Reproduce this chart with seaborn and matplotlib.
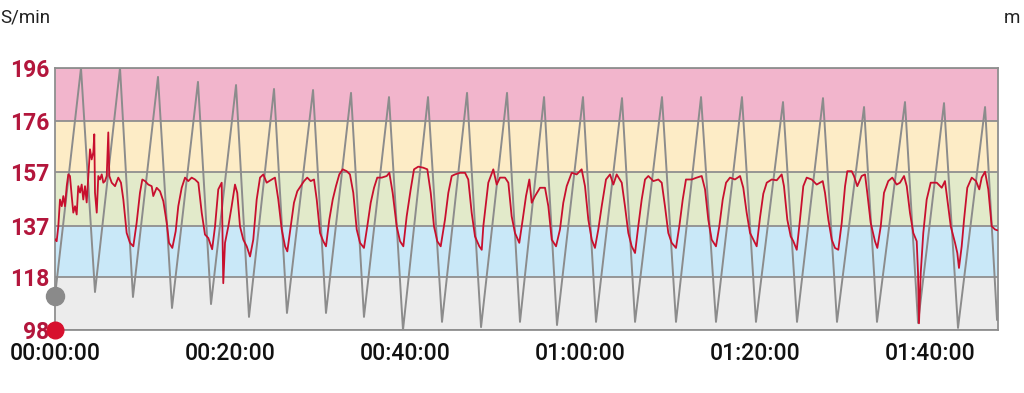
import matplotlib
matplotlib.use("Agg")
import matplotlib.pyplot as plt
import seaborn as sns

# ---------------- data ----------------
zone_bounds = [98, 118, 137, 157, 176, 196]
zone_colors = ["#ececec", "#c9e8f8", "#e2eaca", "#fdecc6", "#f2b5cc"]
tick_minutes = [0, 20, 40, 60, 80, 100]
tick_labels = ["00:00:00", "00:20:00", "00:40:00", "01:00:00", "01:20:00", "01:40:00"]
x_end = 107.77

hr_minutes = [
    0.00, 0.19, 0.38, 0.57, 0.77, 0.95, 1.14, 1.34, 1.52, 1.71, 1.91, 2.09, 2.29, 2.48, 2.66, 2.86, 3.05, 3.23, 3.43, 3.62, 3.81,
    4.00, 4.19, 4.38, 4.49, 4.57, 4.77, 4.95, 5.14, 5.34, 5.52, 5.71, 5.91, 6.09, 6.21, 6.48, 6.86, 7.23, 7.54, 7.81, 8.19, 8.57, 8.95,
    9.33, 9.71, 9.98, 10.29, 10.66, 11.05, 11.23, 11.62, 12.00, 12.38, 12.77, 13.03, 13.41,
    13.79, 14.09, 14.48, 14.86, 15.23, 15.62, 16.00, 16.38, 16.77, 17.14, 17.52, 17.96,
    18.29, 18.66, 19.05, 19.23, 19.43, 19.81, 20.19, 20.57, 20.83, 21.14, 21.52, 21.91, 22.29,
    22.66, 23.05, 23.43, 23.81, 24.19, 24.77, 25.14, 25.52, 25.91, 26.29, 26.55,
    26.94, 27.31, 27.69, 28.08, 28.46, 28.83, 29.22, 29.60, 29.91, 30.29, 30.66, 30.97,
    31.35, 31.74, 32.11, 32.49, 32.88, 33.34, 33.71, 34.09, 34.48, 34.86, 35.31,
    35.69, 36.08, 36.46, 36.83, 37.34, 37.91, 38.21, 38.59, 39.05, 39.43, 39.81,
    40.19, 40.65, 41.03, 41.52, 42.09, 42.55, 42.94, 43.31, 43.69, 44.08,
    44.57, 44.95, 45.34, 45.71, 46.29, 46.86, 47.23, 47.62, 48.00, 48.49, 48.77,
    48.95, 49.52, 50.09, 50.48, 50.86, 51.43, 51.81, 52.19, 52.57, 53.06,
    53.45, 53.83, 54.21, 54.48, 54.86, 55.43, 56.00, 56.38, 56.77, 57.26,
    57.71, 58.09, 58.48, 59.05, 59.62, 60.19, 60.57, 60.95, 61.34, 61.71,
    62.09, 62.48, 62.97, 63.43, 63.81, 64.19, 64.77, 65.14, 65.52, 65.91, 66.29,
    66.66, 67.05, 67.43, 67.81, 68.38, 68.95, 69.34, 69.71, 70.09, 70.48, 70.97,
    71.35, 71.74, 72.11, 72.77, 73.34, 73.91, 74.29, 74.66, 75.05, 75.54,
    75.92, 76.31, 76.69, 77.14, 77.71, 78.29, 78.66, 79.05, 79.43, 79.81, 80.19,
    80.57, 80.95, 81.34, 81.91, 82.48, 83.05, 83.31, 83.69, 84.08, 84.38, 84.77,
    85.14, 85.52, 85.91, 86.48, 87.05, 87.74, 88.00, 88.38, 88.77, 89.14, 89.52,
    89.91, 90.29, 90.55, 91.05, 91.31, 91.69, 92.19, 92.57, 92.83, 93.22, 93.71, 93.98,
    94.37, 94.74, 95.23, 95.69, 96.19, 96.57, 97.03, 97.34, 97.71, 98.09, 98.48, 98.63, 98.74, 98.94,
    99.23, 99.62, 100.08, 100.77, 101.34, 101.71, 101.98, 102.37, 102.86, 103.12, 103.31, 103.62,
    103.89, 104.26, 104.77, 105.26, 105.63, 105.91, 106.29, 106.66, 107.05, 107.43, 107.69,
]
hr_bpm = [
    132.0, 131.2, 136.8, 146.8, 144.3, 148.1, 144.3, 151.8, 156.2, 155.6, 148.1, 141.9, 144.3, 141.2, 151.8, 149.4, 152.4, 146.8, 151.8, 145.7, 155.6,
    165.6, 161.8, 164.5, 171.2, 149.4, 141.9, 155.6, 154.3, 156.2, 153.1, 153.7, 155.6, 171.9, 155.6, 153.1, 151.8, 155.0, 153.1, 146.8, 134.3, 130.6, 129.3,
    138.1, 149.3, 154.3, 153.7, 152.4, 151.8, 148.1, 151.2, 149.9, 146.2, 138.1, 130.6, 128.7,
    134.9, 144.3, 151.2, 155.0, 153.7, 155.0, 154.3, 153.1, 141.8, 133.7, 132.4, 128.2,
    136.8, 150.6, 153.1, 115.5, 130.6, 136.8, 144.3, 152.4, 149.3, 136.8, 131.8, 129.3, 125.5,
    131.8, 146.8, 155.0, 156.2, 153.1, 154.3, 155.0, 146.8, 135.6, 129.3, 127.4,
    136.8, 145.6, 149.9, 151.8, 153.7, 155.0, 153.7, 154.3, 146.8, 134.3, 131.2, 129.3,
    139.3, 146.8, 151.8, 156.2, 158.1, 157.4, 156.2, 149.3, 135.6, 130.6, 128.7,
    136.8, 145.6, 151.2, 155.0, 155.0, 155.6, 156.8, 149.3, 136.8, 131.2, 129.3,
    140.5, 150.6, 158.1, 159.1, 158.7, 158.1, 149.3, 136.8, 131.2, 129.3,
    139.3, 149.3, 155.6, 156.2, 156.8, 156.8, 154.3, 141.8, 133.0, 129.3, 128.0,
    136.8, 153.1, 158.1, 152.4, 155.0, 155.0, 153.1, 140.5, 134.3, 130.6,
    139.3, 148.1, 154.3, 145.6, 148.1, 151.2, 151.2, 144.3, 131.8, 129.3,
    135.6, 145.6, 151.8, 156.8, 156.2, 158.1, 151.8, 139.3, 131.8, 128.7,
    135.6, 144.3, 154.3, 156.2, 152.4, 156.2, 153.1, 144.3, 134.3, 129.3, 126.8,
    136.8, 146.8, 154.3, 155.6, 153.7, 154.3, 153.1, 144.3, 134.3, 130.6, 128.7,
    136.8, 146.8, 154.3, 154.3, 155.0, 155.6, 150.6, 139.3, 131.8, 129.3,
    136.8, 146.8, 153.1, 155.0, 154.3, 155.6, 151.2, 141.8, 134.3, 131.8, 129.3,
    140.0, 149.0, 153.1, 154.3, 154.0, 156.2, 151.8, 139.3, 133.0, 131.2, 128.0,
    139.3, 151.8, 155.0, 154.3, 152.4, 153.7, 149.3, 139.3, 131.8, 128.7, 128.0,
    138.1, 151.8, 157.4, 157.4, 155.6, 151.8, 155.6, 156.2, 149.3, 138.1, 131.2, 128.7,
    136.8, 149.3, 153.7, 155.0, 152.4, 153.1, 155.6, 151.8, 141.8, 134.3, 131.2, 119.3, 100.5, 119.3,
    134.3, 146.8, 153.1, 153.1, 151.2, 153.7, 146.8, 136.8, 130.6, 126.8, 121.2, 129.3,
    139.3, 151.2, 155.0, 153.7, 150.6, 155.0, 157.2, 150.6, 136.8, 135.6, 135.3,
]

# altitude (relative, right axis without tick values, unit "m")
alt_minutes = [
    0.00, 2.97, 4.57, 7.43, 8.91, 11.77, 13.37, 16.34, 17.83, 20.69, 22.17, 25.03, 26.51,
    29.49, 30.97, 33.83, 35.31, 38.17, 39.77, 42.63, 44.23, 47.09, 48.69, 51.66, 53.14,
    55.89, 57.37, 60.34, 61.83, 64.80, 66.29, 69.37, 70.97, 73.83, 75.54, 78.51, 80.11,
    83.20, 84.80, 87.77, 89.37, 92.46, 93.94, 97.14, 98.63, 101.60, 103.20, 106.29, 107.66,
]
alt_values = [
    13.0, 100.0, 14.5, 100.0, 12.6, 96.6, 8.4, 94.7, 9.9, 93.5, 5.0, 92.0, 6.5,
    91.6, 6.5, 90.5, 5.0, 88.9, 0.0, 88.9, 3.1, 90.5, 1.1, 90.5, 3.1,
    88.9, 1.9, 88.9, 3.1, 88.5, 3.1, 88.9, 3.1, 88.9, 3.1, 88.9, 3.1,
    87.0, 3.1, 88.5, 3.1, 85.1, 3.1, 87.0, 2.7, 86.6, 0.8, 85.1, 3.8,
]

# ---------------- style ----------------
sns.set_style("white")
plt.rcParams["font.family"] = ["Roboto", "DejaVu Sans"]

RED = "#c8102e"
LABEL_RED = "#b3163c"
GRAY_LINE = "#8c8c8c"
GRID = "#8f8f8f"

fig = plt.figure(figsize=(10.24, 3.93), dpi=100)
ax = fig.add_axes([55 / 1024, 1 - 330 / 393, (998 - 55) / 1024, (330 - 68) / 393])

for lo, hi, c in zip(zone_bounds[:-1], zone_bounds[1:], zone_colors):
    ax.axhspan(lo, hi, color=c, lw=0, zorder=0)
for b in zone_bounds:
    ax.axhline(b, color=GRID, lw=1.3, zorder=1)

ax.set_ylim(zone_bounds[0], zone_bounds[-1])
ax.set_xlim(0, x_end)
ax.set_yticks(zone_bounds)
ax.set_yticklabels([str(v) for v in zone_bounds])
ax.set_xticks(tick_minutes)
ax.set_xticklabels(tick_labels)
ax.tick_params(axis="y", length=0, pad=4, labelcolor=LABEL_RED, labelsize=16.5)
ax.tick_params(axis="x", length=0, pad=9, labelcolor="#111111", labelsize=16.5)
for lbl in ax.get_yticklabels():
    lbl.set_fontweight("bold")
for lbl in ax.get_xticklabels():
    lbl.set_fontweight("medium")
for s in ax.spines.values():
    s.set_color(GRID)
    s.set_linewidth(1.3)

# altitude on a secondary axis
ax2 = ax.twinx()
sns.lineplot(x=alt_minutes, y=alt_values, ax=ax2, color=GRAY_LINE, lw=1.4, estimator=None, sort=False)
ax2.set_ylim(0, 100)
ax2.set_yticks([])
ax2.set_ylabel("")
for s in ax2.spines.values():
    s.set_visible(False)
ax2.plot([0], [alt_values[0]], "o", color="#8a8a8a", ms=13, clip_on=False, zorder=5)

# heart rate on top
ax3 = ax.twinx()
sns.lineplot(x=hr_minutes, y=hr_bpm, ax=ax3, color=RED, lw=1.3, estimator=None, sort=False)
ax3.set_ylim(zone_bounds[0], zone_bounds[-1])
ax3.set_yticks([])
ax3.set_ylabel("")
for s in ax3.spines.values():
    s.set_visible(False)
ax3.plot([0], [zone_bounds[0]], "o", color="#d7102e", ms=12, clip_on=False, zorder=5)

for a in (ax, ax2, ax3):
    a.set_xlim(0, x_end)
ax.set_xlabel("")

fig.text(0, 1 - 17 / 393, "S/min", fontsize=13.5, color="#222222", ha="left", va="center")
fig.text(1004 / 1024, 1 - 18 / 393, "m", fontsize=13.5, color="#222222", ha="left", va="center")

fig.savefig("out.png", dpi=100)
